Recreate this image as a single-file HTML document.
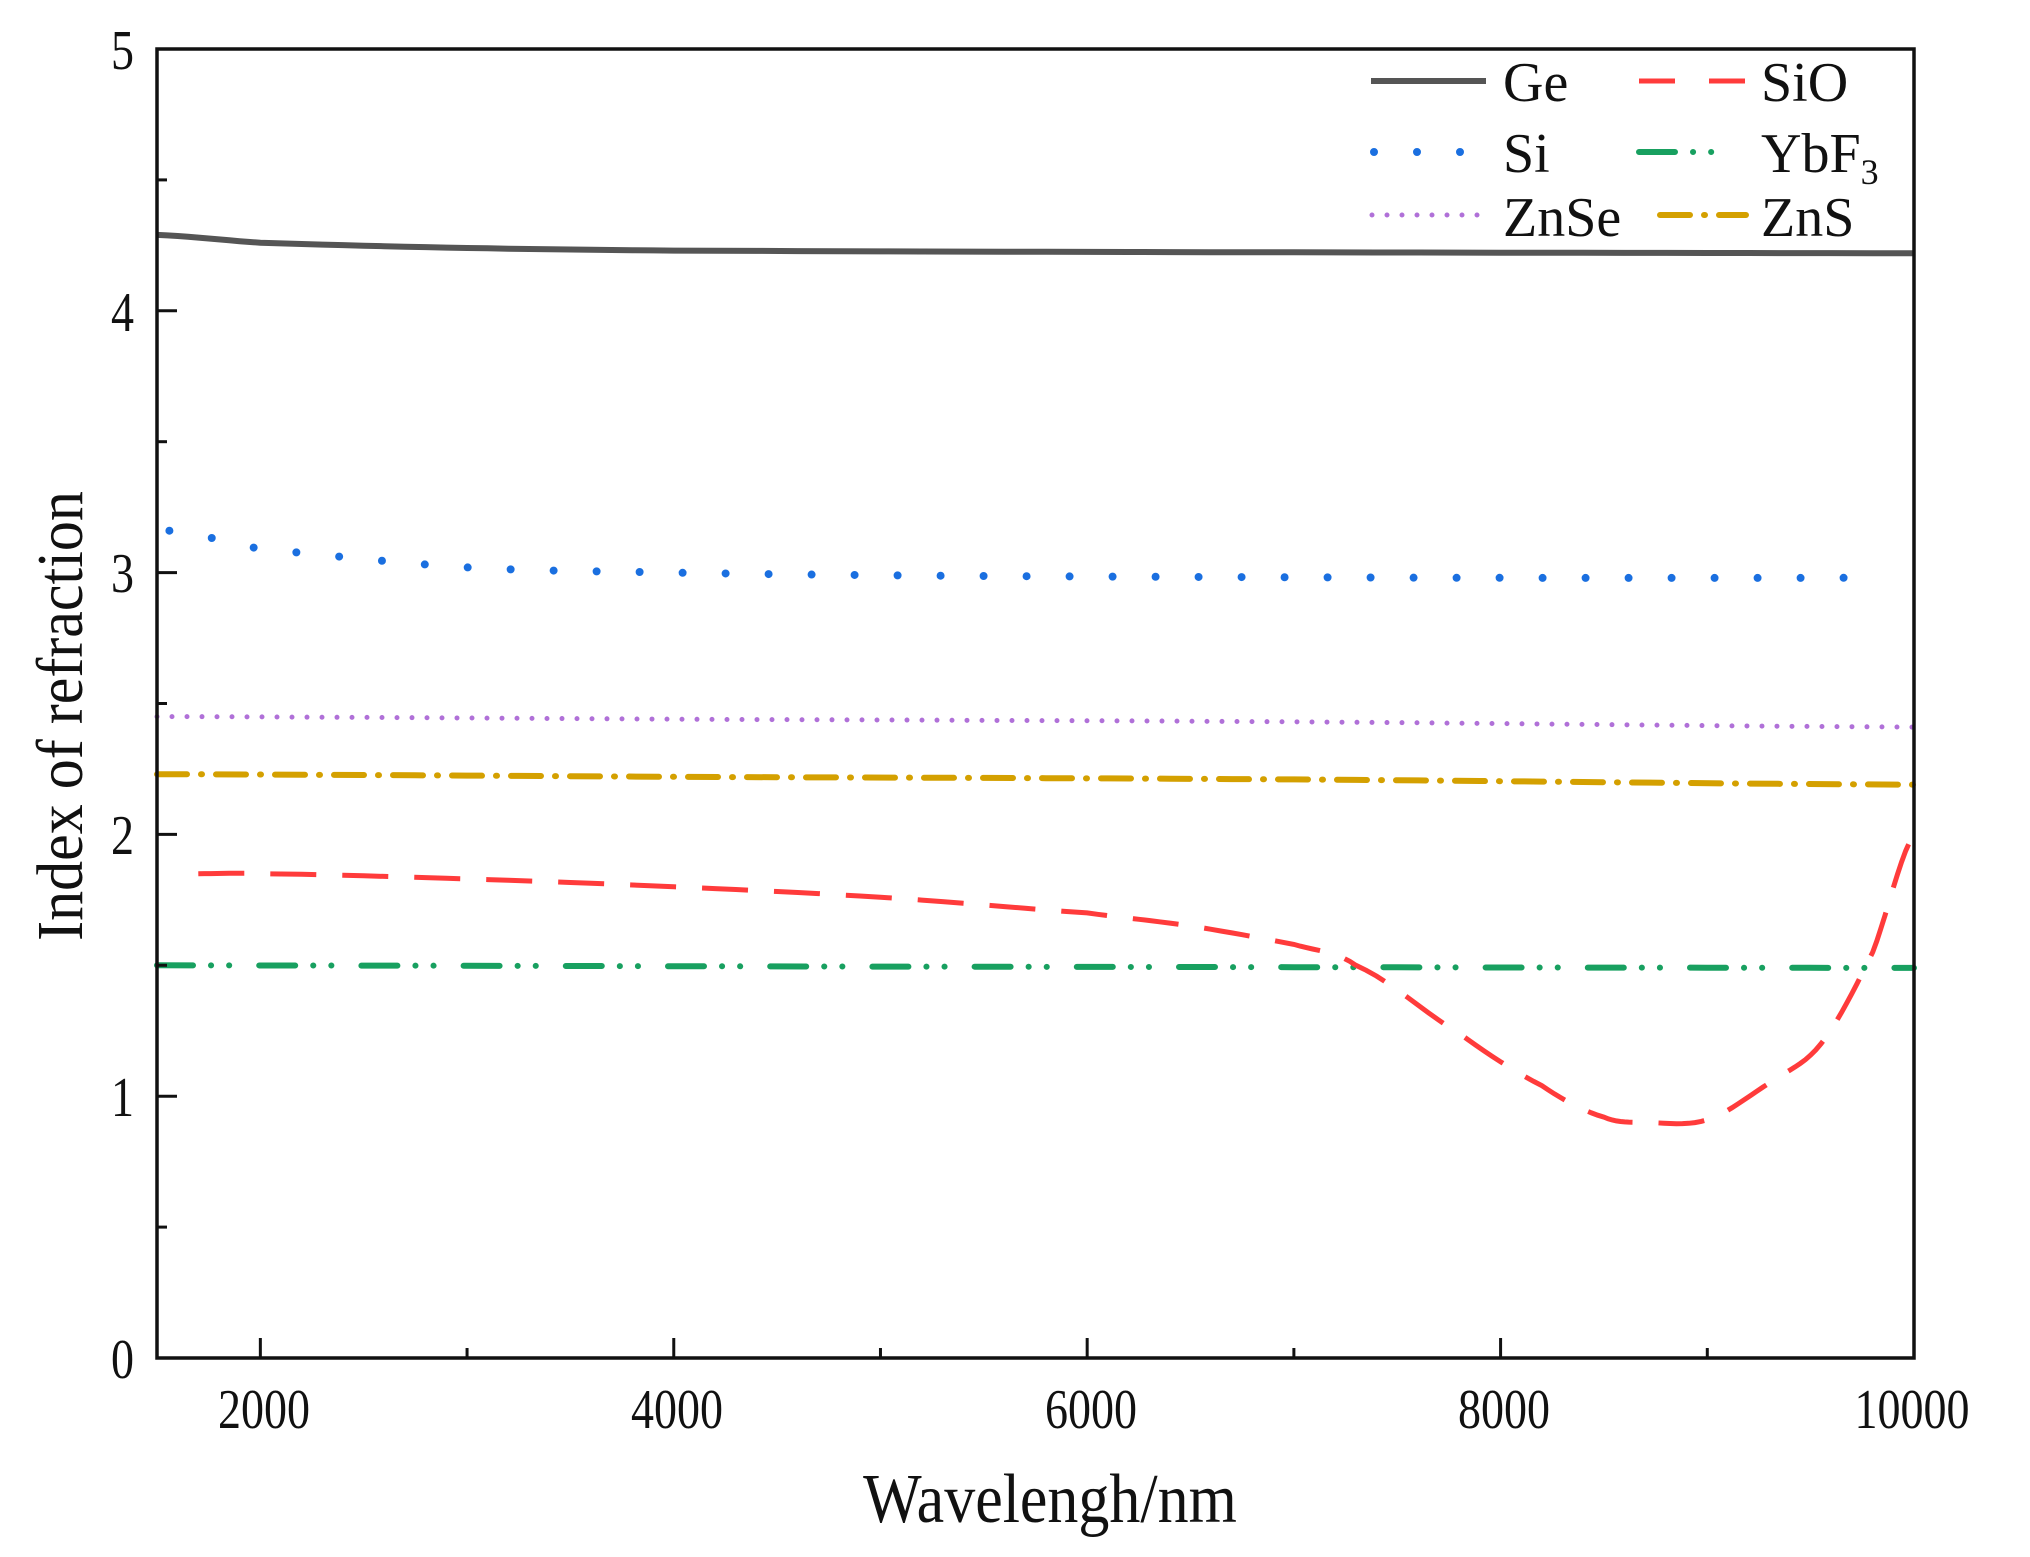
<!DOCTYPE html>
<html><head><meta charset="utf-8"><style>
html,body{margin:0;padding:0;background:#fff;}
svg{display:block;}
text{font-family:"Liberation Serif",serif;fill:#111;}
</style></head><body>
<svg id="s" width="2030" height="1557" viewBox="0 0 2030 1557" xmlns="http://www.w3.org/2000/svg">
<g id="curves" fill="none"></g>
<g id="ticks" stroke="#111" stroke-width="3"></g>
<rect x="157" y="49" width="1757" height="1309" fill="none" stroke="#111" stroke-width="3.5"/>
<g font-size="46" text-anchor="middle">
<text transform="translate(264,1428) scale(1,1.22)">2000</text>
<text transform="translate(677,1428) scale(1,1.22)">4000</text>
<text transform="translate(1091,1428) scale(1,1.22)">6000</text>
<text transform="translate(1504,1428) scale(1,1.22)">8000</text>
<text transform="translate(1912,1428) scale(1,1.22)">10000</text>
</g>
<g font-size="46" text-anchor="end">
<text transform="translate(134,1378) scale(1,1.22)">0</text>
<text transform="translate(134,1116) scale(1,1.22)">1</text>
<text transform="translate(134,854) scale(1,1.22)">2</text>
<text transform="translate(134,592) scale(1,1.22)">3</text>
<text transform="translate(134,331) scale(1,1.22)">4</text>
<text transform="translate(134,69) scale(1,1.22)">5</text>
</g>
<text transform="translate(1050,1522) scale(1,1.12)" font-size="62" text-anchor="middle">Wavelengh/nm</text>
<text transform="translate(82,716) rotate(-90) scale(1,1.1)" font-size="60" text-anchor="middle">Index of refraction</text>
<g font-size="56">
<line x1="1371" y1="81" x2="1486" y2="81" stroke="#555" stroke-width="6"/>
<text x="1503" y="101">Ge</text>
<line x1="1639" y1="81" x2="1746" y2="81" stroke="#ff3b3b" stroke-width="5" stroke-dasharray="36,34"/>
<text x="1761" y="101">SiO</text>
<line x1="1374" y1="152" x2="1470" y2="152" stroke="#1a6fe0" stroke-width="8" stroke-linecap="round" stroke-dasharray="0,43"/>
<text x="1503" y="172">Si</text>
<line x1="1639" y1="152" x2="1735" y2="152" stroke="#18a060" stroke-width="6" stroke-dasharray="36,18,0.1,18,0.1,30" stroke-linecap="round"/>
<text x="1761" y="172">YbF<tspan font-size="36" dy="12">3</tspan></text>
<line x1="1372" y1="215" x2="1478" y2="215" stroke="#b070d8" stroke-width="5" stroke-linecap="round" stroke-dasharray="0,15"/>
<text x="1503" y="236">ZnSe</text>
<line x1="1660" y1="215" x2="1746" y2="215" stroke="#d4a000" stroke-width="6" stroke-dasharray="30,14,1,14" stroke-linecap="round"/>
<text x="1761" y="236">ZnS</text>
</g>
</svg>
<script>
var X=function(v){return 157+(v-1500)*1757/8500;};
var Y=function(v){return 1358-v*261.8;};
function interp(pts){var out=[];for(var i=0;i<pts.length-1;i++){var a=pts[i],b=pts[i+1];for(var t=0;t<1;t+=0.1){var x=a[0]+(b[0]-a[0])*t;
var p0=pts[Math.max(i-1,0)],p3=pts[Math.min(i+2,pts.length-1)];
var t2=t*t,t3=t2*t;var y=0.5*((2*a[1])+(-p0[1]+b[1])*t+(2*p0[1]-5*a[1]+4*b[1]-p3[1])*t2+(-p0[1]+3*a[1]-3*b[1]+p3[1])*t3);
out.push([x,y]);}}out.push(pts[pts.length-1]);return out;}
function path(pts){return pts.map(function(p,i){return (i?'L':'M')+X(p[0]).toFixed(1)+','+Y(p[1]).toFixed(1);}).join('');}
var series=[
 {pts:[[1500,4.29],[2000,4.26],[3000,4.24],[4000,4.23],[6000,4.225],[8000,4.222],[10000,4.22]],c:'#555',w:6,d:''},
 {pts:[[1560,3.16],[2000,3.09],[3000,3.02],[4000,3.0],[5000,2.99],[6000,2.985],[8000,2.98],[9850,2.98]],c:'#1a6fe0',w:8,d:'0,43',cap:'round'},
 {pts:[[1500,2.45],[4000,2.44],[7000,2.43],[10000,2.41]],c:'#b070d8',w:5,d:'0,15',cap:'round'},
 {pts:[[1500,2.23],[4000,2.22],[7000,2.21],[10000,2.19]],c:'#d4a000',w:6,d:'30,14,1,14',cap:'round'},
 {pts:[[1500,1.50],[5000,1.495],[10000,1.49]],c:'#18a060',w:6,d:'36,18,0.1,18,0.1,30',cap:'round'},
 {pts:[[1700,1.85],[2000,1.85],[3000,1.83],[4000,1.80],[5000,1.76],[6000,1.70],[6500,1.65],[7000,1.58],[7300,1.50],[7800,1.24],[8200,1.04],[8500,0.92],[8700,0.90],[9000,0.91],[9300,1.05],[9550,1.2],[9800,1.55],[10000,2.0]],c:'#ff3b3b',w:5,d:'46,26'}
];
var g=document.getElementById('curves'),h='';
series.forEach(function(s){h+='<path d="'+path(interp(s.pts))+'" stroke="'+s.c+'" stroke-width="'+s.w+'"'+(s.d?' stroke-dasharray="'+s.d+'"':'')+(s.cap?' stroke-linecap="'+s.cap+'"':'')+'/>';});
g.innerHTML=h;
var t='';
for(var v=2000;v<=9000;v+=1000){var x=X(v),L=(v%2000==0)?20:10;t+='<line x1="'+x+'" y1="1358" x2="'+x+'" y2="'+(1358-L)+'"/>';}
for(var k=1;k<10;k++){var y=Y(k*0.5),L=(k%2==0)?20:10;t+='<line x1="157" y1="'+y+'" x2="'+(157+L)+'" y2="'+y+'"/>';}
document.getElementById('ticks').innerHTML=t;
</script>
</body></html>
